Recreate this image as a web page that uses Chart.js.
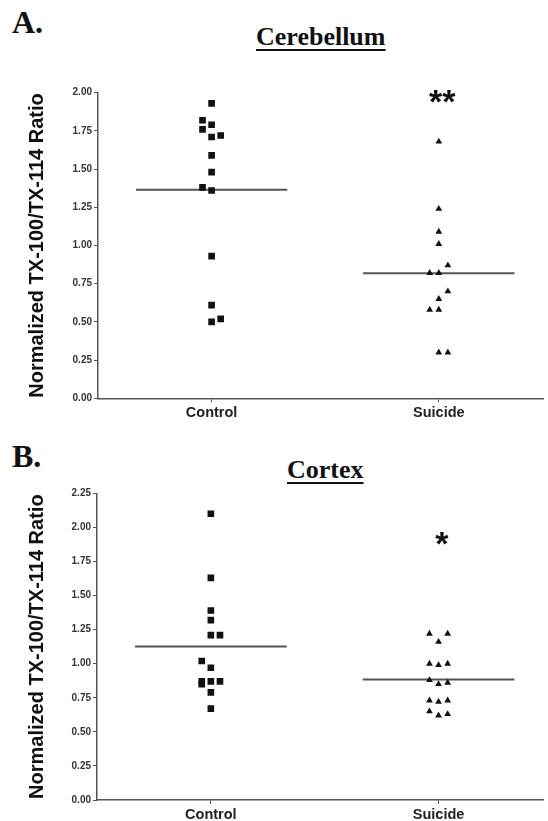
<!DOCTYPE html>
<html>
<head>
<meta charset="utf-8">
<script src="https://cdn.jsdelivr.net/npm/chart.js@4.4.1/dist/chart.umd.min.js"></script>
<style>
    body { margin: 0; background: #fff; width: 548px; height: 821px; position: relative; overflow: hidden; }
    .label { position: absolute; margin: 0; font-family: 'Liberation Serif', 'Times New Roman', serif; font-weight: bold; line-height: 1; color: #111; white-space: nowrap; }
    .letter { font-size: 32px; }
    .title { font-size: 26px; text-decoration: underline; text-decoration-thickness: 2px; text-underline-offset: 4px; }
    canvas { position: absolute; left: 0; }
</style>
</head>
<body>
<div class="label letter" style="left:12px; top:6px;">A.</div>
<div class="label title" style="left:256px; top:24px;">Cerebellum</div>
<canvas id="cerebellum-chart" width="548" height="370" style="top:60px;"></canvas>

<div class="label letter" style="left:12px; top:440px;">B.</div>
<div class="label title" style="left:287px; top:457px;">Cortex</div>
<canvas id="cortex-chart" width="548" height="351" style="top:470px;"></canvas>

<script>
const categories = ['Control', 'Suicide'];
const yTitle = 'Normalized TX-100/TX-114 Ratio';

// Cerebellum
const cerebellumTicks = [0, 0.25, 0.5, 0.75, 1.0, 1.25, 1.5, 1.75, 2.0];
const cerebellumControl = [1.93, 1.82, 1.79, 1.76, 1.72, 1.71, 1.59, 1.48, 1.38, 1.36, 0.93, 0.61, 0.52, 0.50];
const cerebellumControlLane = [0, -1, 0, -1, 1, 0, 0, 0, -1, 0, 0, 0, 1, 0];
const cerebellumSuicide = [1.68, 1.24, 1.09, 1.01, 0.87, 0.82, 0.82, 0.70, 0.65, 0.58, 0.58, 0.30, 0.30];
const cerebellumSuicideLane = [0, 0, 0, 0, 1, -1, 0, 1, 0, -1, 0, 0, 1];
const cerebellumMark = '**';

// Cortex
const cortexTicks = [0, 0.25, 0.5, 0.75, 1.0, 1.25, 1.5, 1.75, 2.0, 2.25];
const cortexControl = [2.10, 1.63, 1.39, 1.32, 1.21, 1.21, 1.02, 0.97, 0.87, 0.85, 0.87, 0.87, 0.79, 0.67];
const cortexControlLane = [0, 0, 0, 0, 0, 1, -1, 0, -1, -1, 0, 1, 0, 0];
const cortexSuicide = [1.22, 1.22, 1.16, 1.00, 0.99, 1.00, 0.88, 0.85, 0.86, 0.73, 0.72, 0.73, 0.65, 0.62, 0.63];
const cortexSuicideLane = [-1, 1, 0, -1, 0, 1, -1, 0, 1, -1, 0, 1, -1, 0, 1];
const cortexMark = '*';

Chart.defaults.font.family = "'Liberation Sans', Arial, sans-serif";

function points(values, lanes, pos) {
    return values.map((v, i) => ({ x: pos + lanes[i] * 0.04, y: v }));
}

function meanLine(values, pos) {
    const m = values.reduce((a, b) => a + b, 0) / values.length;
    return [{ x: pos - 0.333, y: m }, { x: pos + 0.333, y: m }];
}

// draws the significance stars above the suicide group
const markPlugin = {
    id: 'mark',
    afterDatasetsDraw(chart, args, opts) {
        const { ctx, scales: { x, y } } = chart;
        ctx.save();
        ctx.font = 'bold 34px "Liberation Sans"';
        ctx.fillStyle = '#111';
        ctx.textAlign = 'center';
        ctx.textBaseline = 'alphabetic';
        ctx.fillText(opts.text, x.getPixelForValue(opts.x), y.getPixelForValue(opts.y) + 19);
        ctx.restore();
    }
};

function makeChart(id, control, controlLane, suicide, suicideLane, ticks, top, axisHeight, axisWidth, mark, markY) {
    return new Chart(document.getElementById(id), {
        type: 'scatter',
        data: {
            datasets: [{
                data: points(control, controlLane, 1),
                pointStyle: 'rect',
                pointRadius: 4.7,
                backgroundColor: '#111',
                borderWidth: 0
            }, {
                data: points(suicide, suicideLane, 2),
                pointStyle: 'triangle',
                pointRadius: 3.9,
                backgroundColor: '#111',
                borderWidth: 0
            }, {
                data: meanLine(control, 1),
                showLine: true,
                pointRadius: 0,
                borderColor: '#555',
                borderWidth: 2
            }, {
                data: meanLine(suicide, 2),
                showLine: true,
                pointRadius: 0,
                borderColor: '#555',
                borderWidth: 2
            }]
        },
        options: {
            responsive: false,
            animation: false,
            layout: { padding: { top: top, right: 0, bottom: 0, left: 0 } },
            plugins: {
                legend: { display: false },
                tooltip: { enabled: false },
                mark: { text: mark, x: 2.015, y: markY }
            },
            scales: {
                x: {
                    type: 'linear',
                    min: 0.5,
                    max: 2.46,
                    afterBuildTicks: s => { s.ticks = [{ value: 1 }, { value: 2 }]; },
                    afterFit: s => { s.height = axisHeight; },
                    ticks: {
                        callback: v => categories[v - 1],
                        font: { size: 14.5, weight: 'bold' },
                        color: '#222',
                        padding: 2
                    },
                    grid: { drawOnChartArea: false, tickLength: 4, color: '#555' },
                    border: { color: '#555', width: 1.5 }
                },
                y: {
                    min: ticks[0],
                    max: ticks[ticks.length - 1],
                    afterBuildTicks: s => { s.ticks = ticks.map(v => ({ value: v })); },
                    afterFit: s => { s.width = axisWidth; },
                    ticks: {
                        callback: v => v.toFixed(2),
                        font: { size: 10, weight: 'bold' },
                        color: '#333',
                        padding: 2
                    },
                    grid: { drawOnChartArea: false, tickLength: 4, color: '#555' },
                    border: { color: '#555', width: 1.5 },
                    title: {
                        display: true,
                        text: yTitle,
                        font: { size: 20, weight: 'bold' },
                        color: '#111',
                        padding: { top: 25, bottom: 0 }
                    }
                }
            }
        },
        plugins: [markPlugin]
    });
}

const cerebellumChart = makeChart('cerebellum-chart', cerebellumControl, cerebellumControlLane,
    cerebellumSuicide, cerebellumSuicideLane, cerebellumTicks, 32.7, 31.7, 98, cerebellumMark, 1.99);

const cortexChart = makeChart('cortex-chart', cortexControl, cortexControlLane,
    cortexSuicide, cortexSuicideLane, cortexTicks, 23.3, 21, 97, cortexMark, 1.94);
</script>
</body>
</html>
